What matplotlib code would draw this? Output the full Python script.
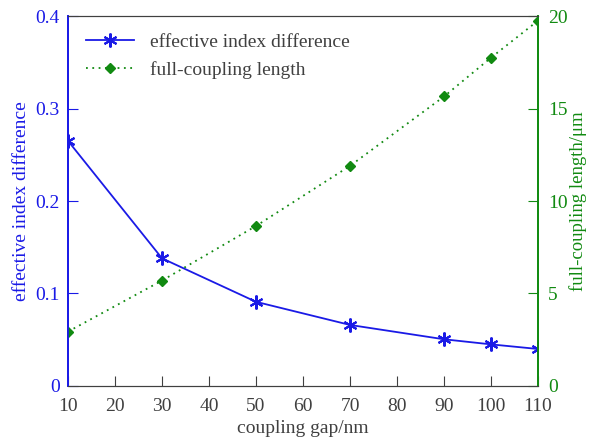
import matplotlib.pyplot as plt

plt.rcParams['font.family'] = ['Liberation Serif', 'DejaVu Serif']

gap = [10, 30, 50, 70, 90, 100, 110]
index_diff = [0.265, 0.138, 0.091, 0.066, 0.0505, 0.045, 0.040]
coupling_len = [2.94, 5.7, 8.65, 11.9, 15.65, 17.75, 19.75]

blue = '#1a1ae6'
green = '#118a11'
dark = '#404040'

fig = plt.figure(figsize=(5.89, 4.45), dpi=100)
ax = fig.add_axes([0.1155, 0.1326, 0.798, 0.8314])
ax2 = ax.twinx()

l1, = ax.plot(gap, index_diff, color=blue, lw=1.3, marker=(6, 2, 0),
              ms=10, mew=1.5, label='effective index difference')
l2, = ax2.plot(gap, coupling_len, color=green, lw=1.3, ls=(0, (1, 2.5)),
               marker='D', ms=5, label='full-coupling length')

ax.set_xlim(10, 110)
ax.set_ylim(0, 0.4)
ax2.set_ylim(0, 20)
ax.set_xticks(range(10, 111, 10))
ax.set_yticks([0, 0.1, 0.2, 0.3, 0.4])
ax.set_yticklabels(['0', '0.1', '0.2', '0.3', '0.4'])
ax2.set_yticks([0, 5, 10, 15, 20])

ax.tick_params(axis='x', direction='in', colors=dark, labelsize=14, length=7, pad=9)
ax.tick_params(axis='y', direction='in', colors=blue, labelsize=14, length=7, pad=6)
ax2.tick_params(axis='y', direction='in', colors=green, labelsize=14, length=7, pad=7)

for a in (ax, ax2):
    a.spines['top'].set_color(dark)
    a.spines['bottom'].set_color(dark)
    a.spines['left'].set_color(blue)
    a.spines['right'].set_color(green)
    a.spines['left'].set_linewidth(1.3)
    a.spines['right'].set_linewidth(1.3)

ax.set_xlabel('coupling gap/nm', fontsize=14, color=dark, labelpad=3)
ax.set_ylabel('effective index difference', fontsize=14, color=blue, labelpad=4)
ax2.set_ylabel('full-coupling length/\u03bcm', fontsize=13.5, color=green, labelpad=1)

ax.legend(handles=[l1, l2], loc='upper left', frameon=False, fontsize=14,
          handlelength=2.5, borderaxespad=0.5, labelcolor=dark)

fig.savefig('out.png', dpi=100)
